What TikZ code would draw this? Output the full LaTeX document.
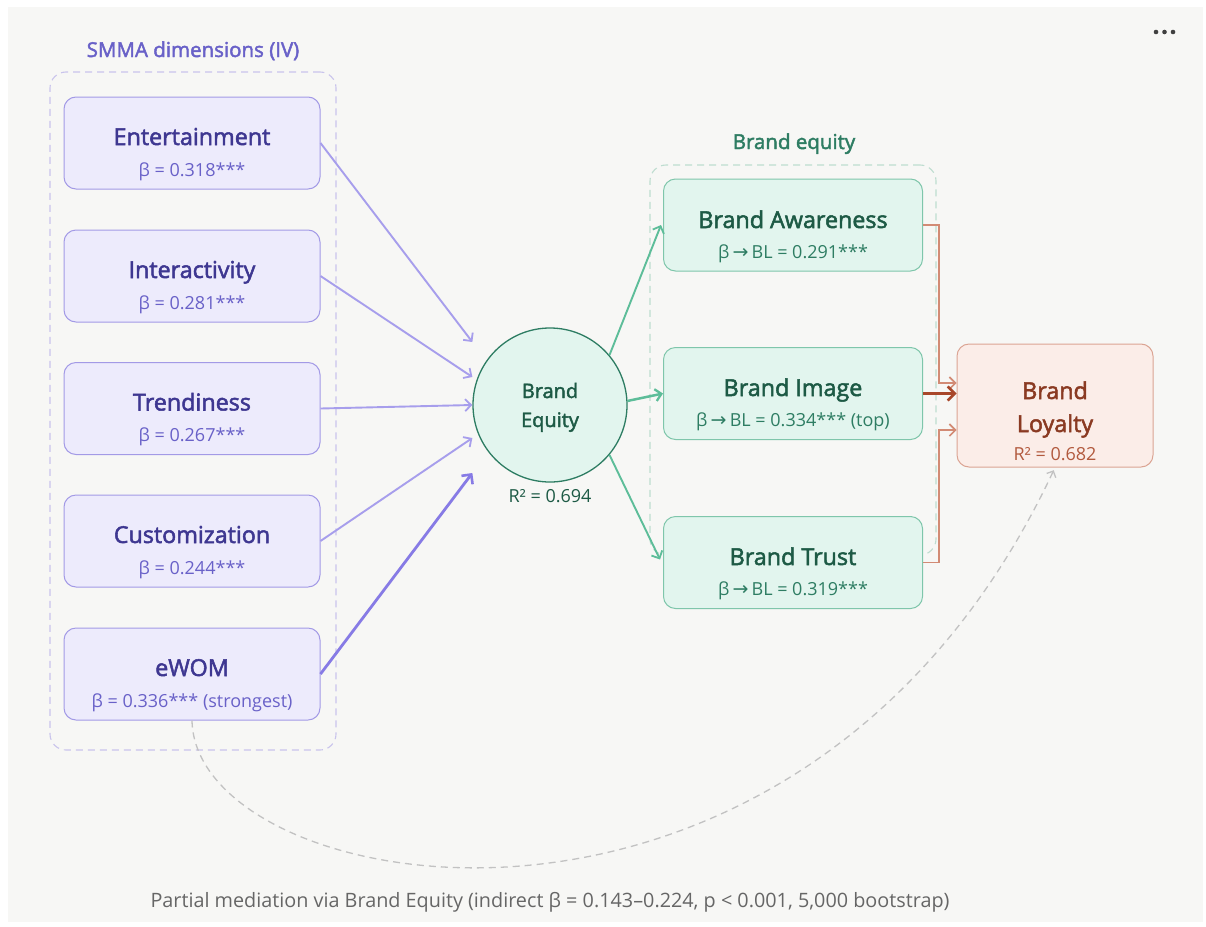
\documentclass[tikz,border=0pt]{standalone}
\usepackage{fontspec}
\setmainfont{Open Sans}
\newfontfamily\semi[FakeBold=2.2]{Open Sans}
\newfontfamily\arrf{DejaVu Sans}
\usetikzlibrary{arrows.meta,calc}
\definecolor{panel}{HTML}{F7F7F5}
\definecolor{pfill}{HTML}{EDEBFC}
\definecolor{pdraw}{HTML}{A39AE6}
\definecolor{ptitle}{HTML}{3E3791}
\definecolor{ptext}{HTML}{6961C8}
\definecolor{pgrp}{HTML}{C9C4EC}
\definecolor{pline}{HTML}{A79EEC}
\definecolor{pline2}{HTML}{877BE5}
\definecolor{gfill}{HTML}{E2F5EE}
\definecolor{gdraw}{HTML}{7FC6AB}
\definecolor{gtitle}{HTML}{1D5A45}
\definecolor{gtext}{HTML}{2E7D63}
\definecolor{ggrp}{HTML}{BEDDD0}
\definecolor{gline}{HTML}{5DBD99}
\definecolor{ofill}{HTML}{FBEDE8}
\definecolor{odraw}{HTML}{DBA493}
\definecolor{otitle}{HTML}{8A3A22}
\definecolor{otext}{HTML}{B25A3E}
\definecolor{oline}{HTML}{D28B75}
\definecolor{oline2}{HTML}{A8472A}
\definecolor{dgray}{HTML}{C2C2C2}
\definecolor{captc}{HTML}{666666}
\tikzset{
  pbox/.style={draw=pdraw, fill=pfill, line width=1pt, rounded corners=12pt, minimum width=256pt, minimum height=92pt, inner sep=0pt},
  gbox/.style={draw=gdraw, fill=gfill, line width=1pt, rounded corners=12pt, minimum width=259pt, minimum height=92pt, inner sep=0pt},
  grp/.style={draw=#1, dashed, dash pattern=on 7pt off 5pt, line width=1.1pt, rounded corners=16pt, inner sep=0pt},
  ttl/.style={anchor=base, text=#1, font=\semi\fontsize{23.3}{27}\selectfont, inner sep=0pt},
  sub/.style={anchor=base, text=#1, font=\fontsize{18}{22}\selectfont, inner sep=0pt},
  parr/.style={draw=pline, line width=1.9pt, -{Straight Barb[length=6pt,width=12pt,line width=1.8pt]}},
  garr/.style={draw=gline, line width=1.9pt, -{Straight Barb[length=6pt,width=12pt,line width=1.8pt]}},
  oarr/.style={draw=oline, line width=1.8pt, -{Straight Barb[length=6pt,width=12pt,line width=1.6pt]}},
}
\begin{document}
\begin{tikzpicture}[x=1pt,y=-1pt]
\useasboundingbox (0,0) rectangle (1206,926);
\fill[white] (0,0) rectangle (1206,926);
\fill[panel] (8,7) rectangle (1203,922);
% menu dots
\foreach \i in {0,1,2} \fill[black!75] (1156+\i*8.5,32) circle (2.3pt);

% groups
\node[grp=pgrp, minimum width=286pt, minimum height=678pt] (smma) at (193,411) {};
\node[grp=ggrp, minimum width=286pt, minimum height=390pt] (beg) at (793,360) {};
\node[anchor=base, text=ptext, font=\semi\fontsize{20.5}{24}\selectfont, inner sep=0pt] (smmat) at (193,57) {SMMA dimensions (IV)};
\node[anchor=base, text=gtext, font=\semi\fontsize{20.5}{24}\selectfont, inner sep=0pt] (begt) at (794,149) {Brand equity};

% purple boxes
\node[pbox] (ent) at (192,143) {};
\node[ttl=ptitle] (entt) at (192,145) {Entertainment};
\node[sub=ptext] (ents) at (192,176) {β = 0.318***};
\node[pbox] (int) at (192,276) {};
\node[ttl=ptitle] (intt) at (192,278) {Interactivity};
\node[sub=ptext] (ints) at (192,309) {β = 0.281***};
\node[pbox] (tre) at (192,408.5) {};
\node[ttl=ptitle] (tret) at (192,410.5) {Trendiness};
\node[sub=ptext] (tres) at (192,441.5) {β = 0.267***};
\node[pbox] (cus) at (192,541) {};
\node[ttl=ptitle] (cust) at (192,543) {Customization};
\node[sub=ptext] (cuss) at (192,574) {β = 0.244***};
\node[pbox] (ewom) at (192,674) {};
\node[ttl=ptitle] (ewomt) at (192,676) {eWOM};
\node[sub=ptext] (ewoms) at (192,707) {β = 0.336*** (strongest)};

% circle
\node[circle, draw=gtext, fill=gfill, line width=1.3pt, minimum size=154pt, inner sep=0pt] (be) at (550,405) {};
\node[anchor=base, text=gtitle, font=\semi\fontsize{20}{24}\selectfont, inner sep=0pt] (bet1) at (550,398) {Brand};
\node[anchor=base, text=gtitle, font=\semi\fontsize{20}{24}\selectfont, inner sep=0pt] (bet2) at (550,427) {Equity};
\node[sub=gtitle] (ber) at (550,502) {R² = 0.694};

% green boxes
\node[gbox] (ba) at (793,225) {};
\node[ttl=gtitle] (bat) at (793,228) {Brand Awareness};
\node[sub=gtext] (bas) at (793,258) {β{\arrf\fontsize{19}{22}\selectfont\,→\,}BL = 0.291***};
\node[gbox] (bi) at (793,393.5) {};
\node[ttl=gtitle] (bit) at (793,396) {Brand Image};
\node[sub=gtext] (bis) at (793,426) {β{\arrf\fontsize{19}{22}\selectfont\,→\,}BL = 0.334*** (top)};
\node[gbox] (bt) at (793,562.5) {};
\node[ttl=gtitle] (btt) at (793,565) {Brand Trust};
\node[sub=gtext] (bts) at (793,595) {β{\arrf\fontsize{19}{22}\selectfont\,→\,}BL = 0.319***};

% brand loyalty
\node[draw=odraw, fill=ofill, line width=1pt, rounded corners=12pt, minimum width=196pt, minimum height=123pt, inner sep=0pt] (bl) at (1055,405.5) {};
\node[ttl=otitle] (blt1) at (1055,399) {Brand};
\node[ttl=otitle] (blt2) at (1055,432) {Loyalty};
\node[sub=otext] (blr) at (1055,460) {R² = 0.682};

% purple arrows
\draw[parr] (ent.east) -- ([yshift=63pt]be.west);
\draw[parr] (int.east) -- ([yshift=28pt]be.west);
\draw[parr] (tre.east) -- (be.west);
\draw[parr] (cus.east) -- ([yshift=-33pt]be.west);
\draw[parr, draw=pline2, line width=2.8pt, -{Straight Barb[length=7pt,width=14pt,line width=2.6pt]}] (ewom.east) -- ([yshift=-68pt]be.west);

% green arrows
\draw[garr] (be.40) -- ([xshift=-2pt]ba.west);
\draw[garr, line width=2.5pt, -{Straight Barb[length=6pt,width=12pt,line width=2.3pt]}] (be.3) -- (bi.west);
\draw[garr] (be.-40) -- ([xshift=-3pt,yshift=3pt]bt.west);

% orange connectors
\draw[oarr] (ba.east) -- ++(16,0) |- ([yshift=22.5pt]bl.west);
\draw[oarr, draw=oline2, line width=2.8pt, -{Straight Barb[length=7pt,width=14pt,line width=2.6pt]}] (bi.east) -- (bi.east -| bl.west);
\draw[oarr] (bt.east) -- ++(16,0) |- ([yshift=-24.5pt]bl.west);

% mediation curve
\draw[draw=dgray, line width=1.3pt, dash pattern=on 7pt off 5pt, -{Straight Barb[length=5pt,width=10pt,line width=1.3pt]}, shorten >=3pt] (ewom.south) .. controls (195,900) and (800,1010) .. (bl.south);

\node[anchor=base, text=captc, font=\fontsize{19.8}{23}\selectfont, inner sep=0pt] (cap) at (550,907) {Partial mediation via Brand Equity (indirect β = 0.143–0.224, p < 0.001, 5,000 bootstrap)};
\end{tikzpicture}
\end{document}
